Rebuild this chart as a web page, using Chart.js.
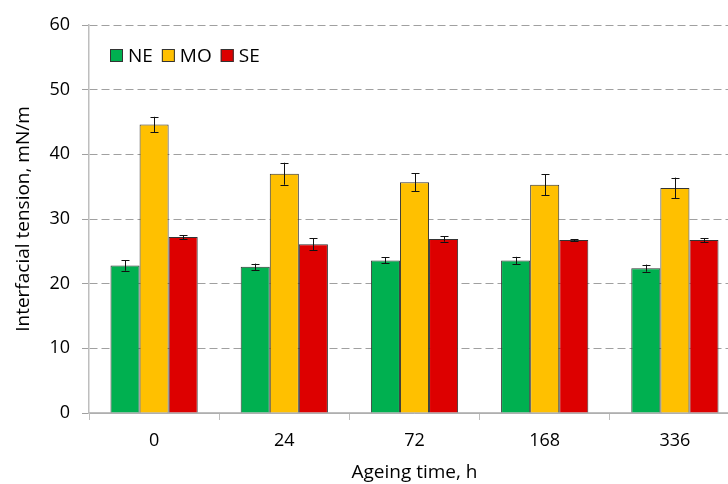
<!DOCTYPE html>
<html>
<head>
<meta charset="utf-8">
<script src="https://cdn.jsdelivr.net/npm/chart.js@4/dist/chart.umd.min.js"></script>
<style>
  html, body { margin: 0; padding: 0; background: #fff; overflow: hidden; }
  #wrap { width: 760px; height: 484px; }
</style>
</head>
<body>
<div id="wrap"><canvas id="ift-chart" width="760" height="484"></canvas></div>
<script>
// Ageing time categories (h)
const categories = ['0', '24', '72', '168', '336'];

// Interfacial tension, mN/m
const neValues = [22.8, 22.6, 23.6, 23.6, 22.4];
const moValues = [44.6, 37.0, 35.7, 35.3, 34.8];
const seValues = [27.2, 26.1, 26.9, 26.75, 26.75];

// Error bar half-widths
const neErrors = [0.8, 0.5, 0.45, 0.55, 0.55];
const moErrors = [1.2, 1.7, 1.4, 1.6, 1.6];
const seErrors = [0.3, 0.9, 0.4, 0.15, 0.3];

const yTicks = [0, 10, 20, 30, 40, 50, 60];

const FONT = '"Open Sans", Lato, sans-serif';
const GRID_GRAY = 'rgb(160, 160, 160)';
const AXIS_GRAY = 'rgb(190, 190, 190)';

// Draw error bars on top of each bar
const errorBarPlugin = {
  id: 'errorBars',
  afterDatasetsDraw(chart) {
    const ctx = chart.ctx;
    const yScale = chart.scales.y;
    ctx.save();
    ctx.strokeStyle = '#111';
    ctx.lineWidth = 1;
    chart.data.datasets.forEach((ds, di) => {
      const meta = chart.getDatasetMeta(di);
      meta.data.forEach((bar, i) => {
        const v = ds.data[i];
        const e = ds.errors[i];
        const x = Math.round(bar.x) + 0.5;
        const yTop = yScale.getPixelForValue(v + e);
        const yBot = yScale.getPixelForValue(v - e);
        ctx.beginPath();
        ctx.moveTo(x, yTop);
        ctx.lineTo(x, yBot);
        ctx.moveTo(x - 4, Math.round(yTop) + 0.5);
        ctx.lineTo(x + 4, Math.round(yTop) + 0.5);
        ctx.moveTo(x - 4, Math.round(yBot) + 0.5);
        ctx.lineTo(x + 4, Math.round(yBot) + 0.5);
        ctx.stroke();
      });
    });
    ctx.restore();
  }
};

// Legend inside the plot area, top-left
const innerLegendPlugin = {
  id: 'innerLegend',
  afterDraw(chart) {
    const ctx = chart.ctx;
    const area = chart.chartArea;
    let x = area.left + 21;
    const yMid = area.top + 30.5;
    ctx.save();
    ctx.font = '19px ' + FONT;
    ctx.textBaseline = 'middle';
    chart.data.datasets.forEach(ds => {
      ctx.fillStyle = ds.backgroundColor;
      ctx.fillRect(x, yMid - 6.5, 13, 13);
      ctx.strokeStyle = '#333';
      ctx.lineWidth = 1;
      ctx.strokeRect(x + 0.5, yMid - 6, 12, 12);
      ctx.fillStyle = '#000';
      ctx.fillText(ds.label, x + 18, yMid + 1);
      x += 18 + ctx.measureText(ds.label).width + 9;
    });
    ctx.restore();
  }
};

const ctx = document.getElementById('ift-chart');

new Chart(ctx, {
  type: 'bar',
  data: {
    labels: categories,
    datasets: [
      { label: 'NE', data: neValues, errors: neErrors, backgroundColor: '#00B050' },
      { label: 'MO', data: moValues, errors: moErrors, backgroundColor: '#FFC000' },
      { label: 'SE', data: seValues, errors: seErrors, backgroundColor: '#DD0000' }
    ]
  },
  options: {
    responsive: false,
    animation: false,
    devicePixelRatio: 1,
    layout: { padding: { top: 25, right: 20, bottom: 0, left: 0 } },
    datasets: {
      bar: {
        categoryPercentage: 0.67,
        barPercentage: 1.0,
        borderColor: '#333',
        borderWidth: 1
      }
    },
    plugins: {
      legend: { display: false },
      tooltip: { enabled: false }
    },
    scales: {
      x: {
        grid: {
          offset: true,
          drawOnChartArea: false,
          drawTicks: true,
          tickLength: 7,
          tickColor: AXIS_GRAY
        },
        border: { color: AXIS_GRAY, width: 1.5 },
        ticks: {
          color: '#000',
          padding: 10,
          font: { family: FONT, size: 18 }
        },
        title: {
          display: true,
          text: 'Ageing time, h',
          color: '#000',
          padding: { top: 0, bottom: 0 },
          font: { family: FONT, size: 19 }
        },
        afterFit: s => { s.height = 71; }
      },
      y: {
        min: 0,
        max: 60,
        afterBuildTicks: s => { s.ticks = yTicks.map(v => ({ value: v })); },
        grid: {
          color: GRID_GRAY,
          lineWidth: 1,
          tickLength: 7,
          tickColor: GRID_GRAY,
          tickBorderDash: [8, 4]
        },
        border: {
          color: AXIS_GRAY,
          width: 1.5,
          dash: c => (c.tick && c.tick.value === 0) ? [] : [8, 4]
        },
        ticks: {
          color: '#000',
          padding: 12,
          font: { family: FONT, size: 18 }
        },
        title: {
          display: true,
          text: 'Interfacial tension, mN/m',
          color: '#000',
          padding: { top: 12, bottom: 0 },
          font: { family: FONT, size: 19 }
        },
        afterFit: s => { s.width = 89; }
      }
    }
  },
  plugins: [errorBarPlugin, innerLegendPlugin]
});
</script>
</body>
</html>
